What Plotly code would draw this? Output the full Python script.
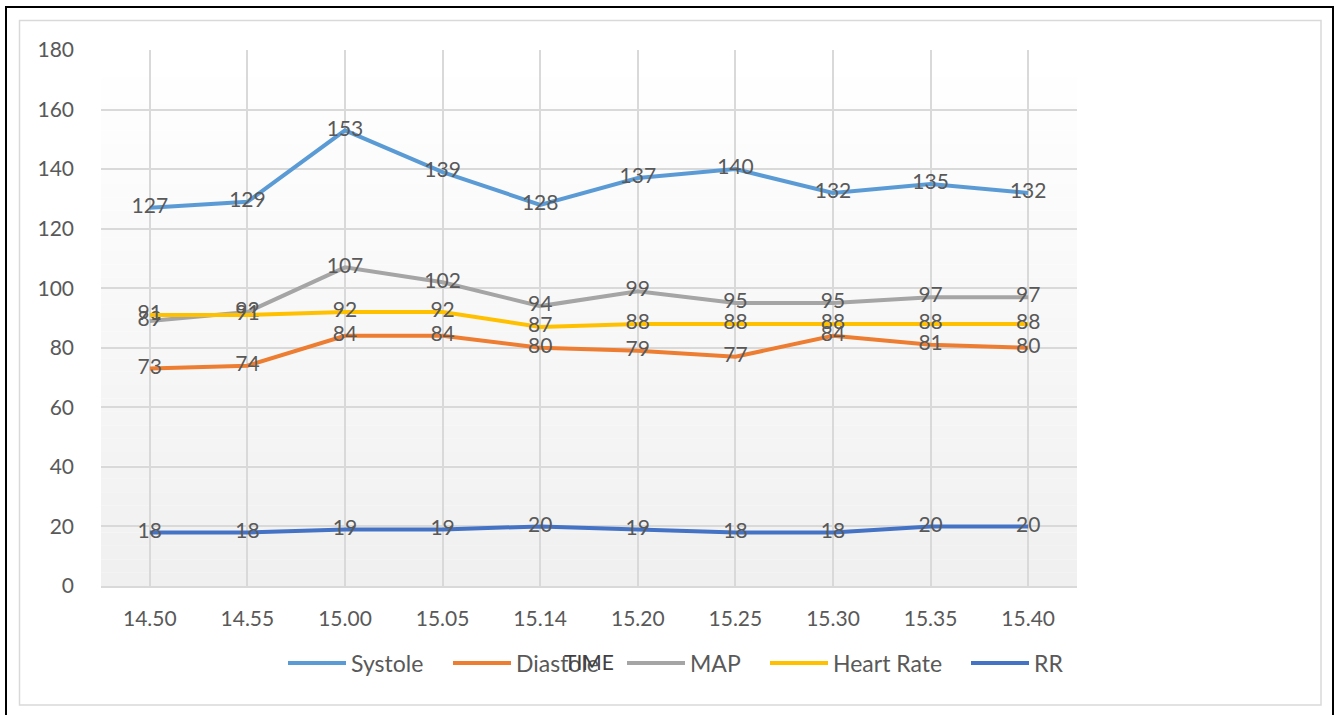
import plotly.graph_objects as go

times = ["14.50", "14.55", "15.00", "15.05", "15.14", "15.20", "15.25", "15.30", "15.35", "15.40"]
systole = [127, 129, 153, 139, 128, 137, 140, 132, 135, 132]
diastole = [73, 74, 84, 84, 80, 79, 77, 84, 81, 80]
map_vals = [89, 92, 107, 102, 94, 99, 95, 95, 97, 97]
heart_rate = [91, 91, 92, 92, 87, 88, 88, 88, 88, 88]
rr = [18, 18, 19, 19, 20, 19, 18, 18, 20, 20]

series_names = ["Systole", "Diastole", "MAP", "Heart Rate", "RR"]
series_values = [systole, diastole, map_vals, heart_rate, rr]

# styles (kept separate from data)
colors = ["#5B9BD5", "#ED7D31", "#A5A5A5", "#FFC000", "#4472C4"]
legend_widths = [92, 101, 70, 128, 40]

FONT = "Lato, 'Open Sans', sans-serif"
TXT = "#595959"
FS = 21

fig = go.Figure()
for name, vals, col, lw in zip(series_names, series_values, colors, legend_widths):
    fig.add_trace(go.Scatter(
        x=times, y=vals, name=name, mode="lines+text",
        line=dict(color=col, width=4),
        text=[str(v) for v in vals], textposition="middle center",
        textfont=dict(family=FONT, size=FS, color=TXT),
        cliponaxis=False, legendwidth=lw,
    ))

shapes = []
# gradient background in plot area
n = 40
for i in range(n):
    t = i / (n - 1)
    v = int(round(255 - (255 - 240) * (1 - t)))
    shapes.append(dict(type="rect", xref="x domain", yref="y domain",
                       x0=0, x1=1, y0=i / n, y1=(i + 1) / n,
                       fillcolor=f"rgb({v},{v},{v})", line=dict(width=0), layer="below"))
# outer black border
shapes.append(dict(type="rect", xref="paper", yref="paper",
                   x0=(6 - 101) / 976, x1=(1333 - 101) / 976,
                   y0=(586 - 716) / 536, y1=(586 - 7) / 536,
                   line=dict(color="black", width=2), layer="above"))
# inner gray border
shapes.append(dict(type="rect", xref="paper", yref="paper",
                   x0=(19.5 - 101) / 976, x1=(1321 - 101) / 976,
                   y0=(586 - 705) / 536, y1=(586 - 20.5) / 536,
                   line=dict(color="#d9d9d9", width=1.5), layer="above"))

fig.update_layout(
    width=1335, height=715,
    margin=dict(l=101, r=258, t=50, b=129),
    paper_bgcolor="white", plot_bgcolor="rgba(0,0,0,0)",
    font=dict(family=FONT, size=FS, color=TXT),
    shapes=shapes,
    showlegend=True,
    legend=dict(orientation="h", x=(283 - 101) / 976, xanchor="left", y=-0.1437, yanchor="middle",
                font=dict(family=FONT, size=23, color=TXT), bgcolor="rgba(0,0,0,0)",
                itemwidth=58, itemclick=False),
    xaxis=dict(type="category", range=[-0.5, 9.5], showgrid=True, gridcolor="#d9d9d9",
               gridwidth=1.5, showline=True, linecolor="#d9d9d9", linewidth=1.5,
               ticks="", tickfont=dict(family=FONT, size=FS, color=TXT),
               ticklabelstandoff=13,
               title=dict(text="TIME", font=dict(family=FONT, size=FS, color="#404040"), standoff=26),
               zeroline=False),
    yaxis=dict(range=[0, 180], dtick=20, showgrid=True, gridcolor="#d9d9d9", gridwidth=1.5,
               zeroline=False, showline=False, ticks="",
               tickfont=dict(family=FONT, size=FS, color=TXT), ticklabelstandoff=26),
)

fig.write_html("out.html", config={"displayModeBar": False},
               post_script="document.body.style.margin='0';document.body.style.overflow='hidden';")
